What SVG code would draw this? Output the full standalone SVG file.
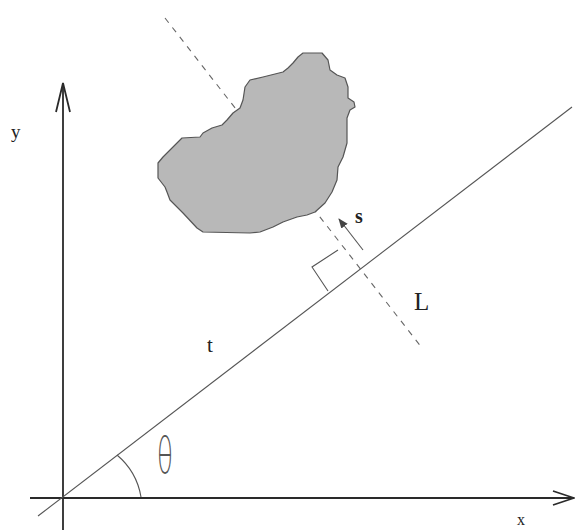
<svg xmlns="http://www.w3.org/2000/svg" width="575" height="530" viewBox="0 0 575 530">
<style>
.axis{stroke:#2a2a2a;stroke-width:1.8;fill:none}
.thin{stroke:#555;stroke-width:1.1;fill:none}
.dash{stroke:#666;stroke-width:1.1;fill:none;stroke-dasharray:6 6}
.lbl{font-family:"Liberation Serif","Times New Roman",serif;fill:#222}
</style>
<defs>
<marker id="ah" viewBox="0 0 10 8" refX="9" refY="4" markerWidth="10" markerHeight="8" markerUnits="userSpaceOnUse" orient="auto">
<path d="M0,0 L10,4 L0,8 Z" fill="#444"/>
</marker>
</defs>
<rect width="575" height="530" fill="#fff"/>
<g id="dashed-line">
<line class="dash" x1="165" y1="18" x2="422" y2="348"/>
</g>
<g id="blob">
<path d="M303,53 L322,53 L328,60 L330,70 L337,75 L345,78 L348,87 L348,98 L354,102 L355,107 L350,110 L347,118 L347,143 L343,157 L338,167 L337,180 L332,192 L325,203 L315,212 L307,215 L297,217 L283,222 L273,227 L260,232 L250,233 L203,232 L197,228 L183,213 L170,200 L167,192 L165,187 L158,178 L158,163 L163,157 L182,138 L200,137 L203,133 L212,128 L222,125 L227,120 L233,113 L240,108 L243,100 L245,87 L250,80 L263,77 L283,72 L288,68 L293,63 L298,57 Z" fill="#b8b8b8" stroke="#555" stroke-width="1.2" stroke-linejoin="round"/>
</g>
<g id="axes">
<line class="axis" x1="63" y1="83" x2="63" y2="530"/>
<polyline class="axis" points="56,112 63,83 70,112"/>
<line class="axis" x1="30" y1="498" x2="574" y2="498"/>
<polyline class="axis" points="553,491 574,498 553,505"/>
</g>
<g id="line-L">
<line class="thin" x1="38" y1="516" x2="572" y2="107"/>
</g>
<g id="connectors">
<polyline class="thin" points="338,250 312,267 328,291"/>
<line class="thin" x1="363" y1="250" x2="339" y2="219" marker-end="url(#ah)"/>
<path class="thin" d="M117,455 A70,70 0 0 1 141,497"/>
</g>
<g id="labels">
<text class="lbl" x="11" y="138" font-size="19">y</text>
<text class="lbl" x="517" y="525" font-size="16">x</text>
<text class="lbl" x="207" y="352" font-size="21">t</text>
<text class="lbl" x="355" y="223" font-size="20" font-weight="bold">s</text>
<text class="lbl" x="414" y="310" font-size="25">L</text>
<text x="157" y="473" font-size="50" font-family="'DejaVu Sans',sans-serif" font-weight="200" fill="#555" textLength="16" lengthAdjust="spacingAndGlyphs">θ</text>
</g>
</svg>
